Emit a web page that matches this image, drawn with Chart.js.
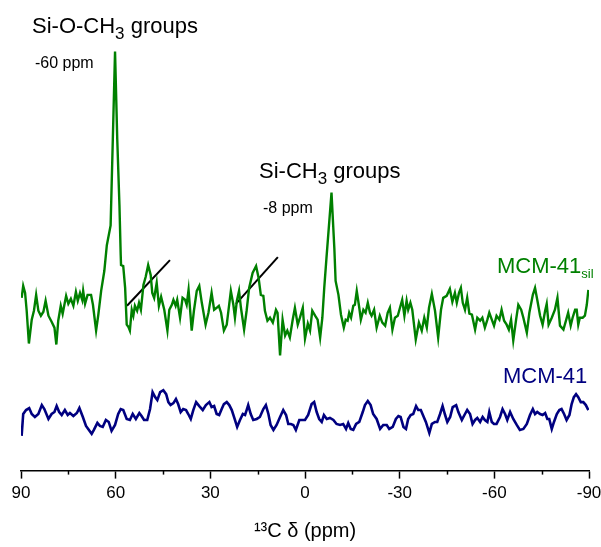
<!DOCTYPE html>
<html>
<head>
<meta charset="utf-8">
<script src="https://cdn.jsdelivr.net/npm/chart.js@4/dist/chart.umd.min.js"></script>
<style>
  body { margin: 0; background: #fff; }
  #wrap { width: 601px; height: 547px; }
</style>
</head>
<body>
<div id="wrap"><canvas id="nmr" width="601" height="547"></canvas></div>
<script>
// 13C spectra, x in ppm, y in arbitrary units (stacked)
const greenPpm = [89.8,89.3,88.7,88.2,87.5,86.6,85.9,85.2,84.5,83.7,
  82.9,82.2,81.3,80.3,79.4,78.8,78.2,77.4,76.8,75.7,
  75.0,74.2,73.4,72.6,72.0,71.3,70.6,70.3,69.7,68.9,
  67.8,67.2,66.2,65.5,64.6,63.6,62.8,61.6,60.9,60.2,
  59.5,58.8,58.4,58.3,57.6,57.0,56.5,56.0,55.5,54.9,
  54.4,53.9,53.2,52.6,52.0,51.2,50.5,49.7,48.9,48.4,
  47.8,47.0,46.3,45.6,44.6,
  43.6,43.0,42.2,41.7,41.0,40.5,39.6,38.8,38.0,37.5,
  36.9,35.9,35.2,34.3,33.5,32.7,31.5,30.6,29.6,28.8,
  28.0,27.3,26.6,25.7,24.8,23.5,22.7,22.2,21.6,20.9,
  20.3,19.3,18.5,17.7,16.6,15.5,14.7,14.0,13.2,12.7,
  11.9,11.1,10.2,9.2,8.7,7.9,7.1,6.3,5.6,4.8,
  3.9,3.2,2.3,1.6,0.7,0.0,-0.9,-1.6,-2.3,-3.2,
  -4.0,-4.8,-5.5,-6.1,-6.8,-8.4,-9.3,-9.7,-10.6,-11.4,
  -12.3,-12.9,-13.5,-14.0,-14.6,-15.3,-15.8,-16.4,-17.2,-17.7,
  -18.5,-19.2,-19.9,-20.6,-21.1,-21.9,-22.7,-23.7,-24.5,-25.4,
  -26.2,-26.9,-27.7,-28.5,-29.4,-30.1,-30.8,-31.5,-32.2,-32.7,
  -33.4,-34.0,-35.1,-36.1,-37.0,-37.8,-38.6,-39.3,-40.2,-41.2,
  -42.2,-43.1,-43.8,-44.9,-45.9,-46.7,-47.5,-48.1,-48.8,-49.4,
  -50.0,-50.7,-51.4,-52.1,-52.9,-53.9,-54.6,-55.5,-56.2,-57.0,
  -57.8,-58.4,-59.2,-59.9,-60.7,-61.6,-62.3,-63.1,-63.9,-64.6,
  -65.3,-66.0,-66.9,-67.6,-68.5,-69.2,-70.3,-71.1,-72.2,-72.9,
  -73.6,-74.5,-75.3,-76.1,-76.6,-77.2,-78.2,-79.2,-80.0,-80.8,
  -81.9,-82.7,-83.4,-84.2,-84.8,-85.6,-86.1,-86.6,-87.1,-88.0,
  -88.7,-89.3,-89.8];
const greenInt = [39,42,40.25,35.75,27.5,33.5,35.75,39.75,35.75,34.5,
  35.5,38.25,34.5,33,31.5,27.25,33.25,37,35,39.5,
  37.5,38.75,37,40.5,38.25,40.25,38.5,40.75,37.5,39.75,
  39.75,37.25,30.75,34.75,40.75,45.75,52.25,57.25,79,101,
  79,62.25,49.75,47.25,47,41.5,32.25,31.75,30.75,36,
  34.5,37,35.75,37.75,36,42.25,44.25,47.25,44.75,40.25,
  39,42.75,37,39.25,36,
  30.75,36,37.25,38.5,37,38.5,34,39,38.5,37.25,
  41,30.75,35.75,40.75,42,37.75,32.25,35.25,40.25,36,
  36.5,37,35.25,30.75,32.25,40.75,37.25,34,38.25,40.75,
  36.5,31,35.75,41.5,45.25,47,44,39.75,39.5,35.75,
  33.25,34,32.75,36,35.25,24.5,33.5,29.5,30.75,29,
  33.5,36.5,32.25,34,36.5,28.75,32.5,30.75,35.75,34.5,
  33.5,29,34,41.5,49,65.5,51.5,43.25,39.75,34.75,
  31.5,33.5,33.25,35.25,34,37,37.25,40.75,36.5,33.5,
  36,35.25,37.75,35.25,34.5,36,31.5,34.5,32.75,32,
  35.25,36.5,31,34,34.5,36.5,38.5,34.5,38.25,36,
  37.75,36,28.5,32.75,30.75,34,31.5,36.5,40,35.75,
  29,36,39,39.5,41.25,38,40.25,37.75,40.25,41.5,
  37.75,36,39,35,34.75,31,34,33.25,34,31.5,
  33.5,35.25,33.5,32,34.5,33.5,36,33.25,32.25,31,
  33.5,28.25,33.5,37.25,36,34,30.25,35.25,39.75,41.5,
  38.5,34.5,32.25,35.75,37.5,32.25,34,36,39,32,
  31,33.25,35.25,32,34,36,36,32.25,34,34,
  34.5,37.25,41];

const bluePpm = [89.8,89.3,88.4,87.4,86.6,85.6,84.5,83.4,82.6,81.3,
  80.3,79.4,78.7,77.9,77.1,76.1,75.2,74.5,73.4,72.3,
  71.5,70.4,69.4,68.7,67.6,66.9,65.8,65.0,64.1,63.1,
  62.2,61.3,60.2,59.2,58.4,57.6,56.5,55.5,54.6,53.6,
  52.5,51.8,51.0,50.0,49.1,48.3,47.5,46.8,45.9,44.9,
  44.0,43.3,42.6,41.7,40.9,40.2,39.4,38.6,37.7,37.0,
  36.2,35.4,34.5,33.5,32.4,31.4,30.3,29.6,28.8,28.0,
  27.2,26.4,25.7,24.8,24.0,23.2,22.2,21.5,20.6,19.7,
  19.0,18.5,18.0,17.2,16.4,15.3,14.3,13.2,12.4,11.6,
  10.9,10.0,9.0,7.9,6.9,6.0,5.3,4.5,3.7,2.9,
  1.8,0.0,-1.0,-2.1,-2.9,-3.7,-4.5,-5.3,-6.0,-6.9,
  -7.9,-9.0,-10.0,-11.1,-12.1,-13.0,-13.7,-14.5,-15.3,-16.2,
  -17.2,-18.3,-19.0,-19.9,-20.8,-21.6,-22.7,-23.8,-24.8,-25.9,
  -26.7,-27.8,-28.8,-29.6,-30.3,-31.2,-32.0,-32.7,-33.5,-34.3,
  -35.2,-35.9,-36.7,-37.5,-38.3,-39.4,-40.2,-41.2,-41.9,-42.8,
  -43.6,-44.4,-45.1,-46.0,-46.8,-47.9,-48.6,-49.7,-50.7,-51.4,
  -52.3,-53.1,-53.9,-54.6,-55.5,-56.3,-57.0,-57.8,-58.4,-59.2,
  -59.9,-60.7,-61.8,-62.6,-63.4,-64.1,-65.0,-66.0,-67.1,-68.1,
  -69.2,-70.3,-71.3,-72.2,-72.9,-73.6,-74.5,-75.3,-76.1,-76.8,
  -77.4,-78.2,-78.9,-79.8,-80.6,-81.3,-82.1,-82.9,-83.8,-84.5,
  -85.2,-85.9,-86.6,-87.4,-88.2,-89.0,-89.8];
const blueInt = [4.25,9.75,10.75,11.25,9.75,9,9.75,12,11,8.5,
  9.75,10.25,11.75,10.25,9.5,10.75,9.5,10,9.25,10,
  11.25,9,6.75,6,4.75,5.75,7.5,6.75,6.5,8.25,
  7.75,5.5,7,9.75,11,10.75,8.5,8.25,9.75,8.5,
  10,9.25,8.25,8.25,11,15.25,14,13.25,15.25,15.75,
  14.75,12.75,12,12.5,13.5,12.25,10.25,11,10.75,9.75,
  8.5,10.75,12.75,11.75,10.75,12,12.75,11.5,11.75,9.75,
  9.5,11,12.25,12.75,12,10.75,8.25,6.5,8.25,9.75,
  9.5,10.75,12,9.75,8.25,8.5,9,11,12,9.75,
  7,5.75,7,9,10.75,9.5,7.25,7.25,7,5.75,
  8.25,8.25,9.5,12.25,12.75,10.25,8.5,7.75,9.5,8.5,
  8.75,8.25,7.25,7,7.25,6,7.5,6,5.75,7.25,
  7.75,10.25,12,13,12,9.75,8.5,6,7,7,
  6,6.5,8.5,9.25,9,6.5,6,8.5,9.5,9.75,
  11.75,10.75,10.75,9.25,7.75,5,7.25,7.75,7.75,9.75,
  11.75,9.5,7.75,9,11.5,12,10.25,8.25,9.75,10.75,
  9.75,7.25,8.25,8.75,7.75,9,8.25,7.75,10.25,7.75,
  7.25,7.25,9,11,9.75,8.25,10.25,8.5,7,5.75,
  6,7.25,9.5,11,9.75,10.25,9.75,9.5,10,8.5,
  8.5,6,7.75,9.75,10.75,11,9.75,8.25,9.5,12.25,
  14,14.75,14,12.75,12.75,12,10.75];

// spinning sideband markers (ppm, a.u.)
const markAPpm = [56.4, 42.8];
const markAInt = [37, 48.5];
const markBPpm = [21.9, 8.6];
const markBInt = [37.5, 49.25];

const xTicks = [90, 60, 30, 0, -30, -60, -90];
const minorTicks = [75, 45, 15, -15, -45, -75];

const GREEN = "#008000";
const NAVY = "#000080";
const SANS = "'Liberation Sans', Arial, sans-serif";

function pts(xs, ys) {
  return xs.map((x, i) => ({ x: x, y: ys[i] }));
}

// text with a sub/superscript part
function subText(ctx, x, y, parts) {
  let cx = x;
  parts.forEach(p => {
    ctx.font = p.size + "px " + SANS;
    ctx.fillText(p.t, cx, y + (p.dy || 0));
    cx += ctx.measureText(p.t).width;
  });
}

const labelsPlugin = {
  id: "labels",
  afterDraw(chart) {
    const ctx = chart.ctx;
    const xs = chart.scales.x;
    const bottom = chart.chartArea.bottom;
    ctx.save();

    // minor ticks
    ctx.strokeStyle = "#000";
    ctx.lineWidth = 1.5;
    minorTicks.forEach(v => {
      const px = Math.round(xs.getPixelForValue(v)) + 0.5;
      ctx.beginPath();
      ctx.moveTo(px, bottom);
      ctx.lineTo(px, bottom + 4);
      ctx.stroke();
    });

    ctx.textBaseline = "alphabetic";
    ctx.textAlign = "left";
    ctx.fillStyle = "#000";
    subText(ctx, 32, 33, [{ t: "Si-O-CH", size: 22 }, { t: "3", size: 17, dy: 6 }, { t: " groups", size: 22 }]);
    subText(ctx, 35, 68, [{ t: "-60 ppm", size: 16 }]);
    subText(ctx, 259, 178, [{ t: "Si-CH", size: 22 }, { t: "3", size: 17, dy: 6 }, { t: " groups", size: 22 }]);
    subText(ctx, 263, 213, [{ t: "-8 ppm", size: 16 }]);

    ctx.fillStyle = GREEN;
    subText(ctx, 497, 273, [{ t: "MCM-41", size: 22 }, { t: "sil", size: 13, dy: 5 }]);
    ctx.fillStyle = NAVY;
    subText(ctx, 503, 383, [{ t: "MCM-41", size: 22 }]);
    ctx.restore();
  }
};

new Chart(document.getElementById("nmr"), {
  type: "line",
  data: {
    datasets: [
      {
        label: "MCM-41sil",
        data: pts(greenPpm, greenInt),
        borderColor: GREEN,
        borderWidth: 2.4,
        pointRadius: 0,
        tension: 0,
      },
      {
        label: "MCM-41",
        data: pts(bluePpm, blueInt),
        borderColor: NAVY,
        borderWidth: 2.6,
        pointRadius: 0,
        tension: 0,
      },
      {
        label: "sb1",
        data: pts(markAPpm, markAInt),
        borderColor: "#000",
        borderWidth: 2,
        pointRadius: 0,
      },
      {
        label: "sb2",
        data: pts(markBPpm, markBInt),
        borderColor: "#000",
        borderWidth: 2,
        pointRadius: 0,
      },
    ],
  },
  options: {
    responsive: false,
    animation: false,
    layout: { padding: { left: 21, right: 12, top: 0, bottom: 0 } },
    plugins: {
      legend: { display: false },
      tooltip: { enabled: false },
    },
    scales: {
      x: {
        type: "linear",
        reverse: true,
        min: -90,
        max: 90,
        afterFit: (s) => { s.paddingLeft = 0; s.paddingRight = 0; },
        afterBuildTicks: (s) => { s.ticks = xTicks.map(v => ({ value: v })); },
        ticks: {
          color: "#000",
          font: { family: SANS, size: 17 },
          padding: 5,
          maxRotation: 0,
          autoSkip: false,
        },
        grid: {
          drawOnChartArea: false,
          drawTicks: true,
          tickLength: 8,
          tickColor: "#000",
          tickWidth: 1.5,
        },
        border: { display: true, color: "#000", width: 1.5 },
        title: {
          display: true,
          text: "¹³C δ (ppm)",
          color: "#000",
          font: { family: SANS, size: 20 },
          padding: { top: 10, bottom: 4 },
        },
      },
      y: {
        display: false,
        min: -4.5,
        max: 114,
      },
    },
  },
  plugins: [labelsPlugin],
});
</script>
</body>
</html>
